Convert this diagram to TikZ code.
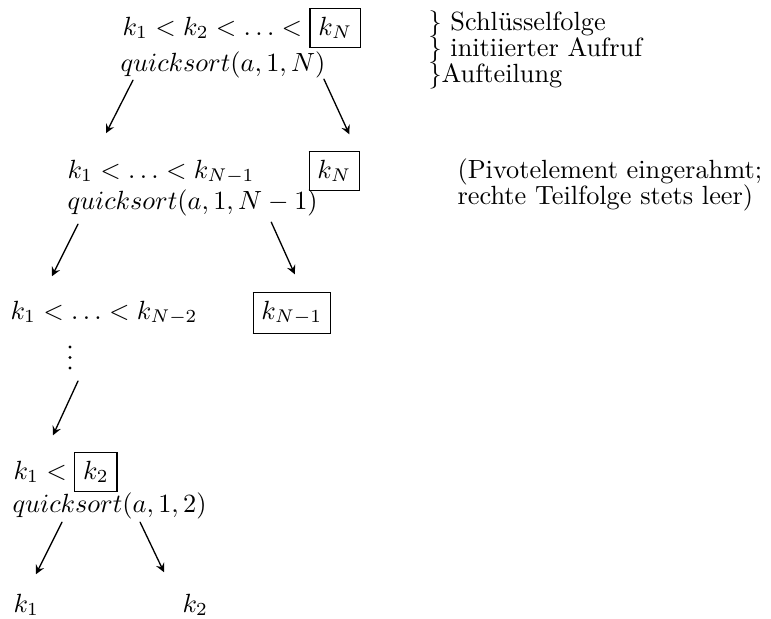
\documentclass[tikz,border=0pt]{standalone}
\newcommand{\piv}[1]{\fbox{$#1$}}
\begin{document}
\begin{tikzpicture}[line join=round, line cap=round, >=stealth, x=0.38pt, y=-0.38pt,
		txt/.style={inner sep=0pt, anchor=base west},
		pfeil/.style={->, line width=0.5pt}]
	\useasboundingbox (0,0) rectangle (771,618);
	% Aufrufbaum
	\node[txt] (s1) at (122,35) {$k_1 < k_2 < \ldots < \piv{k_N}$};
	\node[txt] (q1) at (120,71) {$quicksort(a,1,N)$};
	\node[txt] (s2) at (67,178) {$k_1 < \ldots < k_{N-1}$};
	\node[txt] (p2) at (308,178) {$\piv{k_N}$};
	\node[txt] (q2) at (67,209) {$quicksort(a,1,N-1)$};
	\node[txt] (s3) at (10,319) {$k_1 < \ldots < k_{N-2}$};
	\node[txt] (p3) at (252,319) {$\piv{k_{N-1}}$};
	\coordinate (dots) at (70,370);
	\foreach \y in {0,10.5,21} \fill (70,{368-\y}) circle (0.65pt); % vdots
	\node[txt] (s4) at (13,479) {$k_1 < \piv{k_2}$};
	\node[txt] (q4) at (12,512) {$quicksort(a,1,2)$};
	\node[txt] (l5) at (13,612) {$k_1$};
	\node[txt] (r5) at (182,612) {$k_2$};
	% Erlaeuterungen rechts
	\node[txt] (c1) at (428,30) {\} Schlüsselfolge};
	\node[txt] (c2) at (428,56) {\} initiierter Aufruf};
	\node[txt] (c3) at (428,82) {\}Aufteilung};
	\node[txt] (n1) at (457,178) {(Pivotelement eingerahmt;};
	\node[txt] (n2) at (457,204) {rechte Teilfolge stets leer)};
	% Pfeile
	\draw[pfeil] ([shift={(13,2)}]q1.south west) -- ([shift={(39,-26)}]s2.north west);
	\draw[pfeil] ([shift={(-2,1)}]q1.south east) -- ([shift={(15,-16)}]p2.north);
	\draw[pfeil] ([shift={(11,8)}]q2.south west) -- ([shift={(42,-24)}]s3.north west);
	\draw[pfeil] ([shift={(-47,6)}]q2.south east) -- ([shift={(3,-17)}]p3.north);
	\draw[pfeil] ([shift={(8,11)}]dots) -- ([shift={(40,-16)}]s4.north west);
	\draw[pfeil] ([shift={(50,3)}]q4.south west) -- ([shift={(23,-19)}]l5.north west);
	\draw[pfeil] ([shift={(-67,3)}]q4.south east) -- ([shift={(-18,-21)}]r5.north west);
\end{tikzpicture}
\end{document}
